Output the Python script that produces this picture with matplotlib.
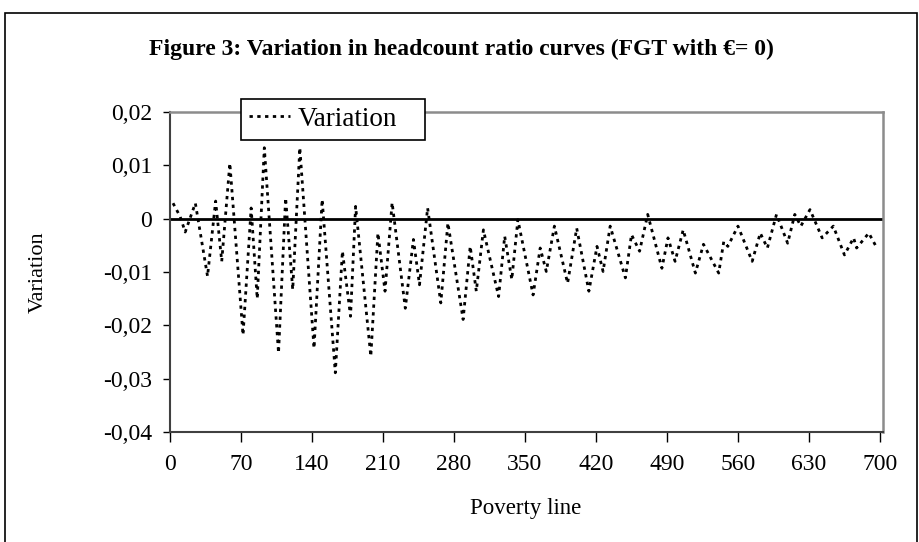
import matplotlib.pyplot as plt
from matplotlib.patches import Rectangle
from matplotlib.ticker import FuncFormatter

# values (poverty line vs. variation)
poverty_line = [3, 10, 15, 25, 37, 45, 51, 59, 72, 80,
                86, 93, 107, 114, 121, 128, 142, 150, 163, 170,
                178, 183, 198, 205, 212, 219, 232, 240, 246, 254,
                267, 274, 289, 296, 302, 309, 324, 330, 337, 343,
                358, 365, 371, 379, 392, 401, 413, 421, 427, 434,
                449, 455, 463, 471, 485, 491, 498, 506, 518, 526,
                541, 546, 550, 560, 574, 582, 589, 598, 609, 616,
                622, 631, 643, 654, 665, 674, 677, 689, 697]
variation = [0.0029, 0.0004, -0.0025, 0.0029, -0.0108, 0.0033, -0.008, 0.0104, -0.0218, 0.002,
             -0.015, 0.0133, -0.0252, 0.0039, -0.0133, 0.0133, -0.0243, 0.0036, -0.0289, -0.0061,
             -0.0183, 0.0023, -0.0258, -0.0027, -0.0136, 0.003, -0.0168, -0.0039, -0.0124, 0.002,
             -0.0158, -0.0008, -0.0189, -0.0052, -0.0136, -0.0021, -0.0146, -0.0033, -0.0114, -0.0002,
             -0.0143, -0.0055, -0.0099, -0.0014, -0.0121, -0.0018, -0.0136, -0.0052, -0.0099, -0.0014,
             -0.0111, -0.003, -0.0061, 0.0008, -0.0093, -0.0036, -0.008, -0.0021, -0.0102, -0.0048,
             -0.0102, -0.0043, -0.0052, -0.0014, -0.008, -0.0027, -0.0055, 0.0008, -0.0046, 0.0008,
             -0.0014, 0.0017, -0.0036, -0.0014, -0.0068, -0.0036, -0.0055, -0.0027, -0.0055]
x_ticks = [0, 70, 140, 210, 280, 350, 420, 490, 560, 630, 700]
y_ticks = [-0.04, -0.03, -0.02, -0.01, 0, 0.01, 0.02]

plt.rcParams['font.family'] = ['Liberation Serif', 'DejaVu Serif']

fig = plt.figure(figsize=(9.2, 5.42), dpi=100)
ax = fig.add_axes([170 / 920, 1 - 432 / 542, 713 / 920, 320 / 542])

# outer frame of the figure (top, left, right edges)
fig.patches.append(Rectangle((5 / 920, -0.1), 912 / 920, 1.1 - 13 / 542,
                             transform=fig.transFigure, fill=False,
                             edgecolor='black', lw=1.2))

ax.axhline(0, color='black', lw=2, zorder=2)
ax.plot(poverty_line, variation, color='black', lw=2,
        linestyle=(0, (1.2, 1.6)), label='Variation', zorder=3)

ax.set_xlim(0, 703)
ax.set_ylim(-0.04, 0.02)
ax.set_xticks(x_ticks)
ax.set_yticks(y_ticks)

def comma_fmt(v, pos):
    if abs(v) < 1e-12:
        return '0'
    return f'{v:.2f}'.replace('.', ',')

ax.yaxis.set_major_formatter(FuncFormatter(comma_fmt))
ax.tick_params(axis='both', labelsize=17, direction='out', length=5, width=1)
ax.tick_params(axis='y', pad=8)
ax.tick_params(axis='x', pad=9, length=7)

for side in ['top', 'right']:
    ax.spines[side].set_color('#8c8c8c')
    ax.spines[side].set_linewidth(1.8)
for side in ['left', 'bottom']:
    ax.spines[side].set_color('#404040')
    ax.spines[side].set_linewidth(1.5)

ax.set_xlabel('Poverty line', fontsize=16.5, va='center')
ax.xaxis.set_label_coords(0.499, -0.24)
ax.set_ylabel('Variation', fontsize=16, va='center')
ax.yaxis.set_label_coords(-0.185, 0.5)

fig.text(0.502, 1 - 49 / 542, 'Figure 3: Variation in headcount ratio curves (FGT with \u20ac= 0)',
         ha='center', va='center', fontsize=17, fontweight='bold')

# legend box stretched to the width seen in the reference
leg = ax.legend(loc='lower left',
                bbox_to_anchor=(241 / 920, 1 - 140 / 542, 184 / 920, 0.05),
                bbox_transform=fig.transFigure, mode='expand',
                fontsize=19.5, frameon=True, fancybox=False,
                edgecolor='black', framealpha=1,
                handlelength=1.5, borderpad=0.3, handletextpad=0.3,
                borderaxespad=0)
leg.get_frame().set_linewidth(1.2)

fig.savefig('out.png', dpi=100)
